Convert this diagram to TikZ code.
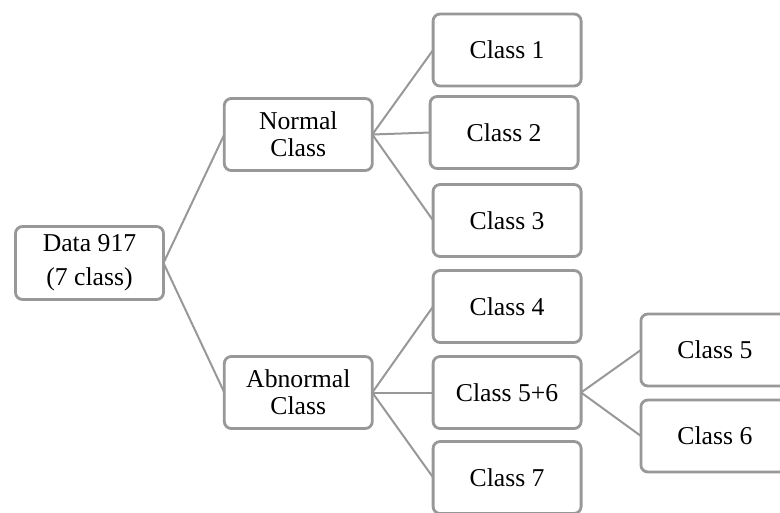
\documentclass[tikz,border=0pt]{standalone}
\usepackage{fontspec}
\setmainfont{Liberation Serif}
\usetikzlibrary{positioning}
\definecolor{boxgray}{RGB}{152,152,152}

\begin{document}
\begin{tikzpicture}[x=1pt, y=-1pt, node distance=60.8pt,
  font=\fontsize{25.7}{27}\selectfont,
  box/.style={draw=boxgray, line width=2.8pt, rounded corners=7pt, fill=white,
    align=center, inner sep=2pt, outer sep=0pt,
    minimum width=148pt, minimum height=72pt},
  link/.style={draw=boxgray, line width=2pt}]
  \clip (0,0) rectangle (780,512);
  \node[box, minimum height=73pt] (data) at (89.5,263) {Data 917\\[7pt](7 class)};
  \node[box, right=of data, yshift=128.5pt] (normal) {Normal\\Class};
  \node[box, right=of data, yshift=-129.5pt] (abnormal) {Abnormal\\Class};
  % normal branch
  \node[box, right=of normal, yshift=84.5pt] (c1) {Class 1};
  \node[box, right=57.8pt of normal, yshift=2pt] (c2) {Class 2};
  \node[box, right=of normal, yshift=-86pt] (c3) {Class 3};
  % abnormal branch
  \node[box, right=of abnormal, yshift=86pt] (c4) {Class 4};
  \node[box, right=of abnormal] (c56) {Class 5+6};
  \node[box, right=of abnormal, yshift=-85pt] (c7) {Class 7};
  \node[box, right=59.8pt of c56, yshift=42.5pt] (c5) {Class 5};
  \node[box, right=59.8pt of c56, yshift=-43.5pt] (c6) {Class 6};
  % connectors
  \draw[link] (data.east) -- (normal.west);
  \draw[link] (data.east) -- (abnormal.west);
  \foreach \c in {c1,c2,c3}
    \draw[link] (normal.east) -- (\c.west);
  \foreach \c in {c4,c56,c7}
    \draw[link] (abnormal.east) -- (\c.west);
  \foreach \c in {c5,c6}
    \draw[link] (c56.east) -- (\c.west);
\end{tikzpicture}
\end{document}
